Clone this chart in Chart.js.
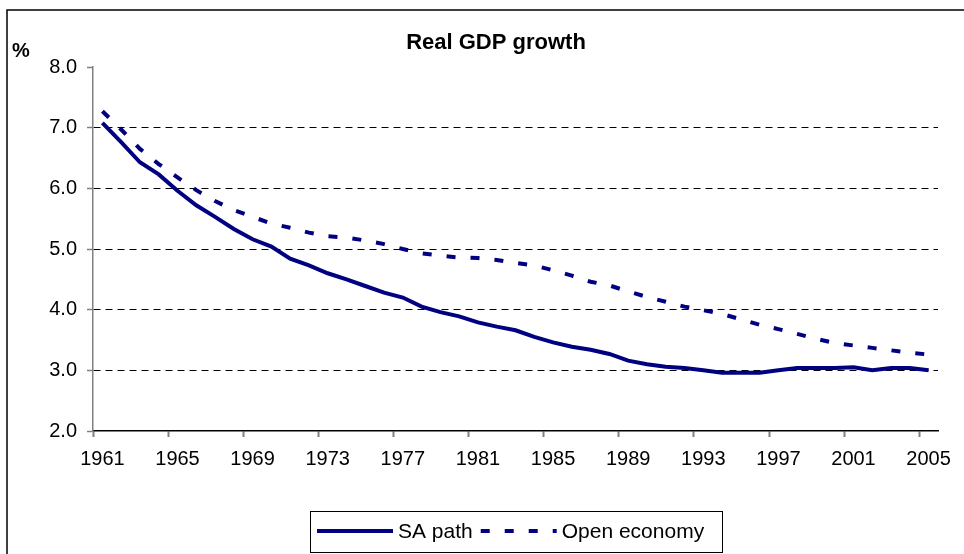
<!DOCTYPE html>
<html>
<head>
<meta charset="utf-8">
<script src="https://cdn.jsdelivr.net/npm/chart.js@4/dist/chart.umd.min.js"></script>
<style>
  html, body { margin: 0; padding: 0; background: #fff; }
  #wrap { width: 964px; height: 554px; position: relative; }
</style>
</head>
<body>
<div id="wrap"><canvas id="gdp"></canvas></div>
<script>
// Real GDP growth, % per year.
var years = [];
for (var y = 1961; y <= 2005; y++) years.push(String(y));

var saPath = [
  7.08, 6.76, 6.43, 6.23, 5.96, 5.72, 5.53, 5.33, 5.16, 5.04,
  4.84, 4.73, 4.60, 4.50, 4.39, 4.28, 4.20, 4.05, 3.96, 3.89,
  3.79, 3.72, 3.66, 3.55, 3.46, 3.39, 3.34, 3.27, 3.16, 3.10,
  3.06, 3.04, 3.00, 2.96, 2.96, 2.96, 3.00, 3.04, 3.04, 3.04,
  3.05, 3.00, 3.04, 3.04, 3.00
];
var openEconomy = [
  7.27, 6.97, 6.65, 6.40, 6.18, 5.97, 5.79, 5.64, 5.53, 5.42,
  5.35, 5.27, 5.21, 5.19, 5.14, 5.08, 5.00, 4.93, 4.89, 4.86,
  4.85, 4.82, 4.77, 4.73, 4.65, 4.56, 4.46, 4.40, 4.30, 4.21,
  4.13, 4.05, 3.99, 3.93, 3.84, 3.75, 3.68, 3.60, 3.52, 3.45,
  3.41, 3.37, 3.33, 3.29, 3.26
];
var yMin = 2, yMax = 8, yStep = 1;

var navy = '#000080';
var font = '"Liberation Sans", Arial, sans-serif';

// Frame, title, "%" unit and the boxed legend (Excel style) drawn around the chart.
var decor = {
  id: 'decor',
  beforeDraw: function (chart) {
    var ctx = chart.ctx;
    ctx.save();
    ctx.fillStyle = '#fff';
    ctx.fillRect(0, 0, chart.width, chart.height);
    ctx.strokeStyle = '#000';
    ctx.lineWidth = 1.5;
    ctx.strokeRect(7, 10, chart.width + 10, chart.height + 10);
    ctx.restore();
  },
  afterDraw: function (chart) {
    var ctx = chart.ctx;
    ctx.save();
    ctx.fillStyle = '#000';
    ctx.textBaseline = 'alphabetic';
    ctx.font = 'bold 22px ' + font;
    ctx.textAlign = 'center';
    ctx.fillText('Real GDP growth', 496, 49);
    ctx.font = 'bold 20px ' + font;
    ctx.textAlign = 'left';
    ctx.fillText('%', 12, 57);

    // legend
    ctx.strokeStyle = '#000';
    ctx.lineWidth = 1;
    ctx.strokeRect(310.5, 511.5, 412, 41);
    var ds = chart.data.datasets;
    var ly = 531, x = 317;
    ctx.font = '21px ' + font;
    ctx.textBaseline = 'middle';
    ds.forEach(function (d) {
      ctx.beginPath();
      ctx.setLineDash(d.borderDash || []);
      ctx.strokeStyle = d.borderColor;
      ctx.lineWidth = d.borderWidth;
      ctx.moveTo(x, ly);
      ctx.lineTo(x + 76, ly);
      ctx.stroke();
      ctx.setLineDash([]);
      ctx.fillStyle = '#000';
      ctx.fillText(d.label, x + 81, ly + 1);
      x += 81 + ctx.measureText(d.label).width + 8;
    });
    ctx.restore();
  }
};

new Chart(document.getElementById('gdp'), {
  type: 'line',
  data: {
    labels: years,
    datasets: [
      { label: 'SA path', data: saPath, borderColor: navy, borderWidth: 4,
        pointRadius: 0, tension: 0, fill: false },
      { label: 'Open economy', data: openEconomy, borderColor: navy, borderWidth: 4,
        borderDash: [9, 15], borderCapStyle: 'butt', pointRadius: 0, tension: 0, fill: false }
    ]
  },
  options: {
    responsive: true, maintainAspectRatio: false, animation: false,
    layout: { padding: { left: 0, right: 26, top: 67, bottom: 63 } },
    plugins: { legend: { display: false }, title: { display: false }, tooltip: { enabled: false } },
    scales: {
      x: {
        type: 'category', offset: true,
        afterFit: function (s) { s.height = 60; },
        border: { color: '#000', width: 1.5 },
        grid: {
          offset: true, drawOnChartArea: false, tickLength: 6, tickWidth: 2,
          color: function (c) { return c.index % 4 === 0 ? '#808080' : 'rgba(0,0,0,0)'; }
        },
        ticks: {
          autoSkip: false, maxRotation: 0, padding: 10, color: '#000',
          font: { family: font, size: 20 },
          callback: function (v, i) { return i % 4 === 0 ? this.getLabelForValue(v) : ''; }
        }
      },
      y: {
        min: yMin, max: yMax,
        afterFit: function (s) { s.width = 93; },
        border: { color: '#808080', width: 1.5, dash: [7, 5] },
        grid: {
          tickLength: 6, tickColor: '#808080', tickWidth: 1.5, tickBorderDash: [],
          color: function (c) {
            var v = c.tick && c.tick.value;
            return (v > yMin && v < yMax) ? '#000' : 'rgba(0,0,0,0)';
          }
        },
        ticks: {
          stepSize: yStep, padding: 10, color: '#000',
          font: { family: font, size: 20 },
          callback: function (v) { return Number(v).toFixed(1); }
        }
      }
    }
  },
  plugins: [decor]
});
</script>
</body>
</html>
